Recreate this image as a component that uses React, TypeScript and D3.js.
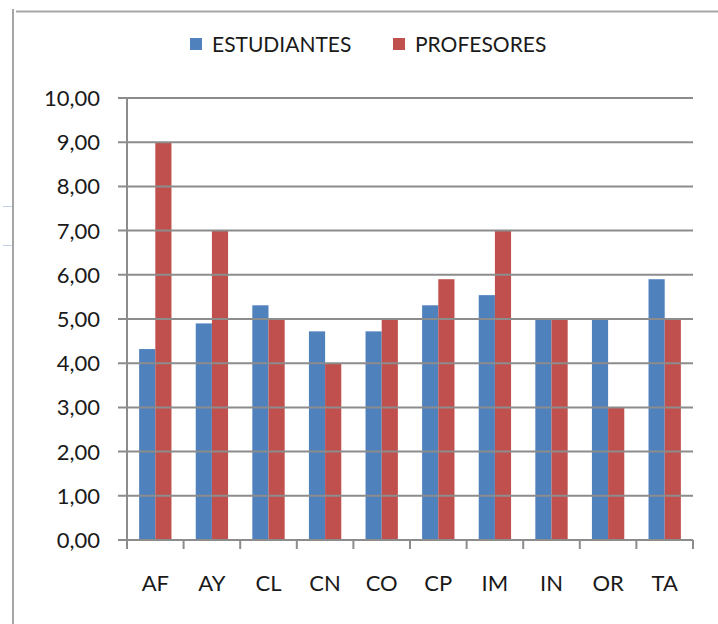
import { useEffect, useRef } from 'react';
import * as d3 from 'd3';

// Excel-style clustered columns: ESTUDIANTES vs PROFESORES per area
const CATEGORIES = ['AF', 'AY', 'CL', 'CN', 'CO', 'CP', 'IM', 'IN', 'OR', 'TA'];
const ESTUDIANTES = [4.32, 4.9, 5.31, 4.72, 4.72, 5.31, 5.54, 5.0, 5.0, 5.9];
const PROFESORES = [9.0, 7.0, 5.0, 4.0, 5.0, 5.9, 7.0, 5.0, 3.0, 5.0];
const SERIES = ['ESTUDIANTES', 'PROFESORES'];
const Y_TICKS = [0, 1, 2, 3, 4, 5, 6, 7, 8, 9, 10];

const COLOURS: Record<string, string> = {
  ESTUDIANTES: '#4f81bd',
  PROFESORES: '#c0504d',
};

const W = 718;
const H = 624;
const PLOT = { left: 127, right: 693, top: 98, bottom: 540 };
const FONT = 'Lato, "Open Sans", sans-serif';
const GRID = '#8c8c8c';

export default function App() {
  const svgRef = useRef<SVGSVGElement>(null);

  useEffect(() => {
    if (!svgRef.current) return;
    const svg = d3.select(svgRef.current);
    svg.selectAll('*').remove();

    const x = d3.scaleBand<string>().domain(CATEGORIES).range([PLOT.left, PLOT.right]);
    // gap width 150% -> each bar is 1/3.5 of the band
    const bw = x.bandwidth();
    const barW = bw / 3.5;
    const inner = d3
      .scaleBand<string>()
      .domain(SERIES)
      .range([bw * 0.75 / 3.5, bw * 0.75 / 3.5 + 2 * barW]);
    const y = d3.scaleLinear().domain([0, 10]).range([PLOT.bottom, PLOT.top]);

    // outer frame (partial, as in the cropped screenshot)
    svg.append('line')
      .attr('x1', 13).attr('x2', 13).attr('y1', 9).attr('y2', H)
      .attr('stroke', '#a6a6a6').attr('stroke-width', 2);
    svg.append('line')
      .attr('x1', 16).attr('x2', W).attr('y1', 11.5).attr('y2', 11.5)
      .attr('stroke', '#a6a6a6').attr('stroke-width', 2);
    // stray marks at the left edge
    [206.5, 245.5].forEach((yy) => {
      svg.append('line')
        .attr('x1', 3).attr('x2', 12).attr('y1', yy).attr('y2', yy)
        .attr('stroke', '#c5d3e8').attr('stroke-width', 1);
    });

    // gridlines + y ticks
    const g = svg.append('g');
    Y_TICKS.forEach((t) => {
      g.append('line')
        .attr('x1', PLOT.left - 9).attr('x2', PLOT.right)
        .attr('y1', y(t)).attr('y2', y(t))
        .attr('stroke', GRID).attr('stroke-width', 2);
      g.append('text')
        .attr('x', 100)
        .attr('y', y(t))
        .attr('dy', '0.36em')
        .attr('text-anchor', 'end')
        .attr('font-family', FONT)
        .attr('font-size', 22)
        .attr('fill', '#1a1a1a')
        .text(d3.format('.2f')(t).replace('.', ','));
    });

    // y axis line
    g.append('line')
      .attr('x1', PLOT.left).attr('x2', PLOT.left)
      .attr('y1', PLOT.top).attr('y2', PLOT.bottom)
      .attr('stroke', GRID).attr('stroke-width', 2);

    // x ticks at band edges
    const edges = CATEGORIES.map((c) => x(c) as number).concat([PLOT.right]);
    edges.forEach((ex) => {
      g.append('line')
        .attr('x1', ex).attr('x2', ex)
        .attr('y1', PLOT.bottom).attr('y2', PLOT.bottom + 9)
        .attr('stroke', GRID).attr('stroke-width', 2);
    });

    // bars
    const data = CATEGORIES.map((c, i) => ({ c, ESTUDIANTES: ESTUDIANTES[i], PROFESORES: PROFESORES[i] }));
    const groups = svg.append('g')
      .selectAll('g')
      .data(data)
      .join('g')
      .attr('transform', (d) => `translate(${x(d.c)},0)`);
    groups.selectAll('rect')
      .data((d) => SERIES.map((s) => ({ s, v: (d as any)[s] as number })))
      .join('rect')
      .attr('x', (d) => inner(d.s) as number)
      .attr('y', (d) => y(d.v))
      .attr('width', inner.bandwidth())
      .attr('height', (d) => y(0) - y(d.v))
      .attr('fill', (d) => COLOURS[d.s]);

    // x axis baseline over bars
    g.raise();

    // category labels
    svg.append('g')
      .selectAll('text')
      .data(CATEGORIES)
      .join('text')
      .attr('x', (d) => (x(d) as number) + bw / 2)
      .attr('y', 591)
      .attr('text-anchor', 'middle')
      .attr('font-family', FONT)
      .attr('font-size', 22)
      .attr('fill', '#1a1a1a')
      .text((d) => d);

    // legend
    const legendX = [190, 393];
    SERIES.forEach((s, i) => {
      svg.append('rect')
        .attr('x', legendX[i]).attr('y', 38)
        .attr('width', 12).attr('height', 12)
        .attr('fill', COLOURS[s]);
      svg.append('text')
        .attr('x', legendX[i] + 22)
        .attr('y', 51.5)
        .attr('font-family', FONT)
        .attr('font-size', 21)
        .attr('fill', '#1a1a1a')
        .text(s);
    });
  }, []);

  return (
    <svg
      ref={svgRef}
      width={W}
      height={H}
      style={{ position: 'absolute', left: 0, top: 0, background: '#fff' }}
    />
  );
}
